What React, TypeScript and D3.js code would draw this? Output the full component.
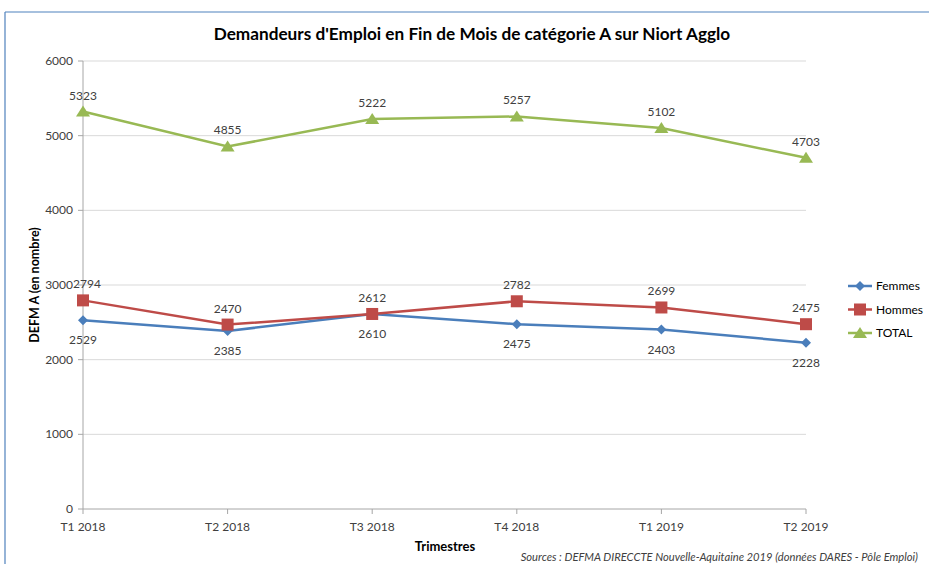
import React from "react";
import * as d3 from "d3";

const categories = ["T1 2018", "T2 2018", "T3 2018", "T4 2018", "T1 2019", "T2 2019"];
const femmes = [2529, 2385, 2610, 2475, 2403, 2228];
const hommes = [2794, 2470, 2612, 2782, 2699, 2475];
const total = [5323, 4855, 5222, 5257, 5102, 4703];
const yTicks = [0, 1000, 2000, 3000, 4000, 5000, 6000];
const seriesNames = ["Femmes", "Hommes", "TOTAL"];
const seriesColors = ["#4A7EBB", "#BE4B48", "#98B954"];
// label position per series per point: 1 = below, -1 = above
const labelPos = [
  [1, 1, 1, 1, 1, 1],
  [-1, -1, -1, -1, -1, -1],
  [-1, -1, -1, -1, -1, -1],
];

const W = 929, H = 564;
const FONT = "Lato, 'Open Sans', sans-serif";

function Marker({ type, x, y, color }: { type: number; x: number; y: number; color: string }) {
  if (type === 0) {
    const s = 5;
    return <path d={`M${x},${y - s}L${x + s},${y}L${x},${y + s}L${x - s},${y}Z`} fill={color} />;
  }
  if (type === 1) {
    return <rect x={x - 6} y={y - 6} width={12} height={12} fill={color} />;
  }
  return <path d={`M${x},${y - 6}L${x + 7},${y + 5}L${x - 7},${y + 5}Z`} fill={color} />;
}

export default function App() {
  const x = d3.scalePoint<string>().domain(categories).range([83, 806]);
  const y = d3.scaleLinear().domain([0, 6000]).range([509, 61]);
  const data = [femmes, hommes, total];
  const line = d3
    .line<number>()
    .x((_, i) => x(categories[i]) as number)
    .y((d) => y(d));

  return (
    <svg width={W} height={H} style={{ position: "absolute", left: 0, top: 0, background: "#fff" }}>
      <rect x={0} y={0} width={W} height={H} fill="#fff" />
      {/* border */}
      <line x1={5} y1={12} x2={W} y2={12} stroke="#4F81BD" strokeWidth={1.2} />
      <line x1={5} y1={12} x2={5} y2={H} stroke="#4F81BD" strokeWidth={1.2} />

      <text x={472} y={40} textAnchor="middle" fontFamily={FONT} fontWeight="bold" fontSize={17.2} fill="#000">
        Demandeurs d'Emploi en Fin de Mois de catégorie A sur Niort Agglo
      </text>

      {/* gridlines */}
      {yTicks.map((t) => (
        <g key={t}>
          {t > 0 && <line x1={83} x2={806} y1={y(t)} y2={y(t)} stroke="#D9D9D9" strokeWidth={1} />}
          <line x1={78} x2={83} y1={y(t)} y2={y(t)} stroke="#A6A6A6" />
          <text x={73} y={y(t) + 4} textAnchor="end" fontFamily={FONT} fontSize={12} fill="#404040">
            {t}
          </text>
        </g>
      ))}
      {/* axes */}
      <line x1={83} x2={83} y1={61} y2={509} stroke="#A6A6A6" />
      <line x1={83} x2={806} y1={509} y2={509} stroke="#A6A6A6" />
      {categories.map((c) => (
        <g key={c}>
          <line x1={x(c)} x2={x(c)} y1={509} y2={514} stroke="#A6A6A6" />
          <text x={x(c)} y={531} textAnchor="middle" fontFamily={FONT} fontSize={12} fill="#404040">
            {c}
          </text>
        </g>
      ))}

      <text x={445} y={551} textAnchor="middle" fontFamily={FONT} fontWeight="bold" fontSize={13} fill="#000">
        Trimestres
      </text>
      <text
        transform="translate(39,285) rotate(-90)"
        textAnchor="middle"
        fontFamily={FONT}
        fontWeight="bold"
        fontSize={12.5}
        fill="#000"
      >
        DEFM A (en nombre)
      </text>

      {/* series */}
      {data.map((vals, si) => (
        <g key={si}>
          <path d={line(vals) || ""} fill="none" stroke={seriesColors[si]} strokeWidth={2.5} />
          {vals.map((v, i) => (
            <Marker key={i} type={si} x={x(categories[i]) as number} y={y(v)} color={seriesColors[si]} />
          ))}
          {vals.map((v, i) => (
            <text
              key={"l" + i}
              x={(x(categories[i]) as number) + (i === 0 && si === 1 ? 4 : 0)}
              y={y(v) + (labelPos[si][i] > 0 ? 24 : -12)}
              textAnchor="middle"
              fontFamily={FONT}
              fontSize={12}
              fill="#404040"
            >
              {v}
            </text>
          ))}
        </g>
      ))}

      {/* legend */}
      {seriesNames.map((n, i) => {
        const ly = 286 + i * 23.5;
        return (
          <g key={n}>
            <line x1={848} x2={872} y1={ly} y2={ly} stroke={seriesColors[i]} strokeWidth={2.5} />
            <Marker type={i} x={860} y={ly} color={seriesColors[i]} />
            <text x={876} y={ly + 4} fontFamily={FONT} fontSize={12} fill="#000">
              {n}
            </text>
          </g>
        );
      })}

      <text x={918} y={561} textAnchor="end" fontFamily={FONT} fontStyle="italic" fontSize={11.2} fill="#404040">
        Sources : DEFMA DIRECCTE Nouvelle-Aquitaine 2019 (données DARES - Pôle Emploi)
      </text>
    </svg>
  );
}
